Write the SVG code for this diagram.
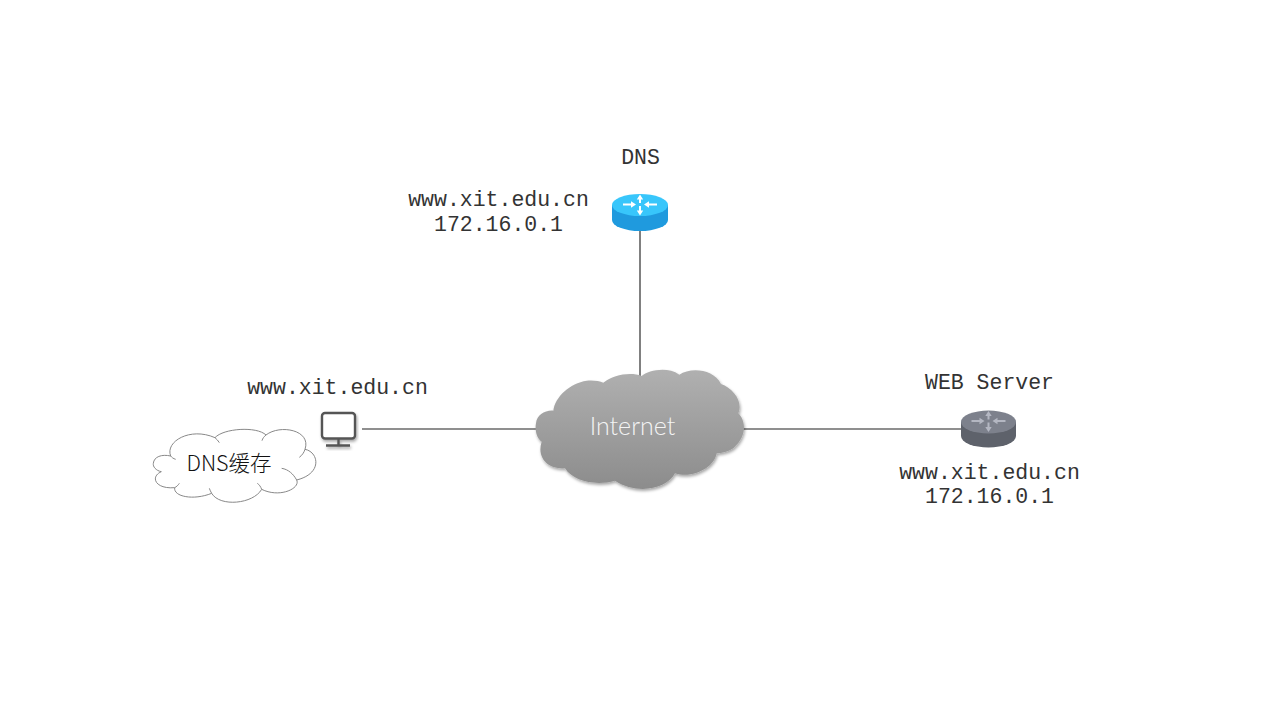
<svg xmlns="http://www.w3.org/2000/svg" width="1280" height="720" viewBox="0 0 1280 720">
<style>
.m{font-family:"Liberation Mono","Courier New",monospace;font-size:21.5px;fill:#333;text-anchor:middle}
.lk{stroke:#6a6a6a;stroke-width:1.7;fill:none}
</style>
<defs>
<linearGradient id="cg" x1="0" y1="0" x2="0" y2="1"><stop offset="0" stop-color="#b0b0b0"/><stop offset="1" stop-color="#8c8c8c"/></linearGradient>
<filter id="sh" x="-10%" y="-10%" width="120%" height="125%"><feDropShadow dx="1" dy="2" stdDeviation="1.5" flood-color="#000" flood-opacity=".35"/></filter>
<g id="arrows">
<path d="M-17 0H-8M17 0H8M0 -6V-1.500M0 1.500V7" stroke-width="2" fill="none" stroke="currentColor"/>
<path d="M-4 0L-9 -3.200V3.200ZM4 0L9 -3.200V3.200ZM0 -10L-3.200 -5H3.200ZM0 11L-3.200 6H3.200Z" fill="currentColor"/>
</g>
</defs>
<g id="connectors">
<path class="lk" d="M640 230V380"/>
<path class="lk" d="M362 429H540"/>
<path class="lk" d="M742 429H962"/>
</g>
<g id="dns-node">
<text class="m" x="640.500" y="164">DNS</text>
<text class="m" x="498.500" y="206">www.xit.edu.cn</text>
<text class="m" x="498.500" y="231">172.16.0.1</text>
<path d="M612 205V220A28 11 0 0 0 668 220V205Z" fill="#1f9ade"/>
<ellipse cx="640" cy="205" rx="28" ry="11" fill="#38c6fb"/>
<use href="#arrows" x="640" y="204.500" color="#fff"/>
</g>
<g id="web-server">
<text class="m" x="989.500" y="389">WEB Server</text>
<text class="m" x="989.500" y="479">www.xit.edu.cn</text>
<text class="m" x="989.500" y="503">172.16.0.1</text>
<path d="M961 422V436A27.500 11.500 0 0 0 1016 436V422Z" fill="#5e626b"/>
<ellipse cx="988.500" cy="422" rx="27.500" ry="11.500" fill="#7d818c"/>
<use href="#arrows" x="988.500" y="421" color="#b4b7c2"/>
</g>
<g id="client">
<text class="m" x="337.500" y="394">www.xit.edu.cn</text>
<g filter="url(#sh)" fill="none" stroke="#555" stroke-width="2.400">
<rect x="322" y="413" width="33" height="25.500" rx="3" fill="#fff"/>
<path d="M338.500 438.500V445M326 445.500H350"/>
</g>
</g>
<g id="dns-cache">
<g transform="translate(140 400) scale(.33333)" fill="none" stroke="#888" stroke-width="3">
<path fill="#fff" d="M40 190C42 170 65 162 92 168C75 125 150 80 225 113C250 85 350 78 378 105C420 72 515 90 495 148C535 155 550 220 470 240C482 265 420 295 365 268C340 312 240 322 215 280C160 302 100 290 104 263C45 268 30 230 64 215C48 212 38 200 40 190Z"/>
<path d="M92 168C95 172 100 176 107 178M225 113C230 118 235 122 238 128M378 105C372 110 368 115 366 122M495 148C492 158 486 166 478 172M470 240C460 222 445 208 425 205M365 268C362 260 358 254 352 250M215 280C212 275 210 270 208 265M104 263C110 260 114 256 118 250"/>
</g>
<text x="229" y="471" font-family="'Noto Sans CJK SC',sans-serif" font-weight="300" font-size="21.500" text-anchor="middle" fill="#111">DNS缓存</text>
</g>
<g id="internet">
<g filter="url(#sh)"><path fill="url(#cg)" transform="translate(520 360) scale(.33333)" d="M48 190C50 165 75 150 100 152C105 110 150 70 200 62C220 60 238 63 250 68C280 45 330 35 365 48C385 32 440 18 478 44C510 22 580 25 603 72C640 85 670 125 655 160C675 180 685 225 640 265C625 275 605 280 590 280C585 320 520 358 465 340C440 388 350 405 285 362C230 378 160 365 135 325C80 328 50 290 65 245C50 235 44 210 48 190Z"/></g>
<text x="632.500" y="435" font-family="Lato,sans-serif" font-weight="300" font-size="25" text-anchor="middle" fill="#f4f4f4">Internet</text>
</g>
</svg>
